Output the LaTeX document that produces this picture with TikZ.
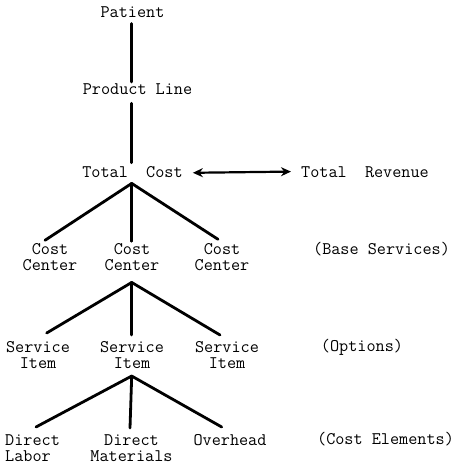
\documentclass[tikz,border=0pt]{standalone}
\usepackage{fontspec}
\usetikzlibrary{arrows.meta}
\begin{document}
\begin{tikzpicture}[x=1pt,y=-1pt,
  lbl/.style={font=\ttfamily\fontsize{17.7}{16}\selectfont, inner sep=0pt, align=center},
  branch/.style={line width=2.8pt, line cap=round},
  link/.style={line width=2.2pt, {Stealth[length=10pt,width=9pt]}-{Stealth[length=10pt,width=9pt]}}]
\useasboundingbox (0,0) rectangle (457,465);

% top chain
\node[lbl, anchor=base] (pat) at (132.5,17.3) {Patient};
\node[lbl, anchor=base] (pl)  at (137.5,95)   {Product Line};
\node[lbl, anchor=base] (tc)  at (132.5,177)  {Total\ \ Cost};
\node[lbl, anchor=base] (tr)  at (365,177)    {Total\ \ Revenue};

% cost centers
\node[lbl, anchor=north] (cc1) at (50,243.3)  {Cost\\Center};
\node[lbl, anchor=north] (cc2) at (132,243.3) {Cost\\Center};
\node[lbl, anchor=north] (cc3) at (222,243.3) {Cost\\Center};
\node[lbl, anchor=base]  (bs)  at (381.5,254) {(Base Services)};

% service items
\node[lbl, anchor=north] (si1) at (38,341)  {Service\\Item};
\node[lbl, anchor=north] (si2) at (132,341) {Service\\Item};
\node[lbl, anchor=north] (si3) at (227,341) {Service\\Item};
\node[lbl, anchor=base]  (op)  at (362,351.7) {(Options)};

% cost elements
\node[lbl, anchor=north west, align=left] (dl) at (5,434) {Direct\\Labor};
\node[lbl, anchor=north] (dm) at (131.5,434) {Direct\\Materials};
\node[lbl, anchor=north] (oh) at (230,434)   {Overhead};
\node[lbl, anchor=base]  (ce) at (385.5,444.8) {(Cost Elements)};

% connectors
\draw[branch] ([xshift=-0.8pt,yshift=-6pt]pat.south) -- ([xshift=-0.8pt,yshift=2pt]pat.south |- pl.north);
\draw[branch] ([xshift=-0.8pt,yshift=-8pt]pat.south |- pl.south) -- ([xshift=-0.8pt,yshift=3pt]tc.north);

\coordinate (a1) at ([xshift=-0.8pt,yshift=-6pt]tc.south);
\draw[branch] (a1) -- ([xshift=-5pt,yshift=3pt]cc1.north);
\draw[branch] (a1) -- ([xshift=-0.3pt,yshift=2pt]cc2.north);
\draw[branch] (a1) -- ([xshift=-4pt,yshift=4pt]cc3.north);

\coordinate (a2) at ([xshift=-0.3pt,yshift=-11.5pt]cc2.south);
\draw[branch] (a2) -- ([xshift=8.7pt,yshift=8pt]si1.north);
\draw[branch] (a2) -- ([xshift=-0.3pt,yshift=6pt]si2.north);
\draw[branch] (a2) -- ([xshift=-7pt,yshift=6pt]si3.north);

\coordinate (a3) at ([xshift=-0.3pt,yshift=-7.5pt]si2.south);
\draw[branch] (a3) -- ([xshift=3pt,yshift=7pt]dl.north -| 33,0);
\draw[branch] (a3) -- ([xshift=-1.5pt,yshift=6pt]dm.north);
\draw[branch] (a3) -- ([xshift=-8.3pt,yshift=7pt]oh.north);

\draw[link] ([xshift=10pt,yshift=-1.2pt]tc.east) -- ([xshift=-10pt]tc.east -| tr.west);
\end{tikzpicture}
\end{document}
